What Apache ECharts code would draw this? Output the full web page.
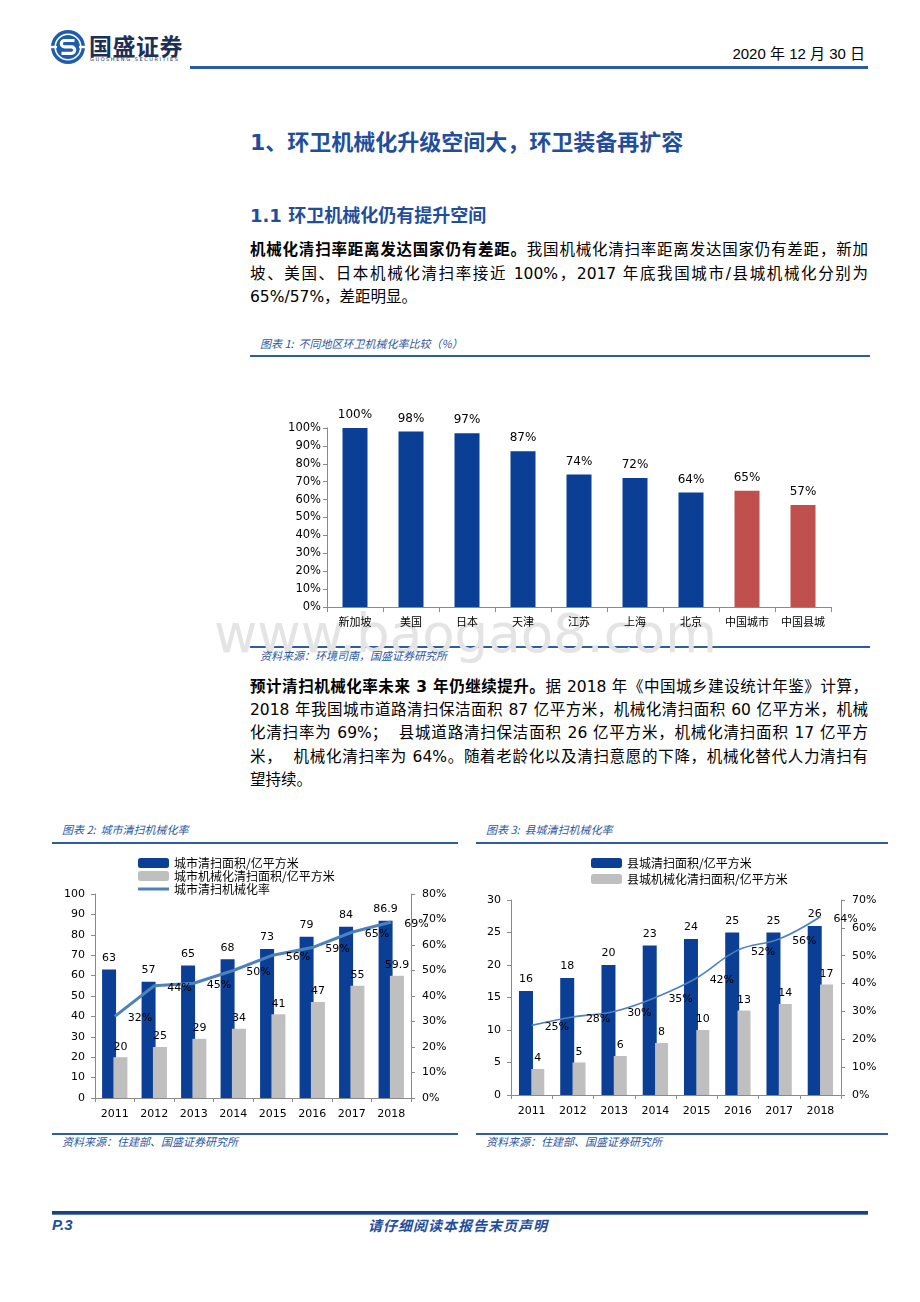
<!DOCTYPE html>
<html><head><meta charset="utf-8">
<script src="https://cdn.jsdelivr.net/npm/echarts@6/dist/echarts.min.js"></script>
<style>
html,body{margin:0;padding:0;background:#fff}
body{width:920px;height:1302px;position:relative;overflow:hidden;font-family:"DejaVu Sans","Noto Sans CJK SC",sans-serif;color:#000}
.a{position:absolute;white-space:nowrap}
.line{position:absolute;left:250px;width:618px;height:23px;line-height:23px;font-size:15.5px;text-align:justify;text-align-last:justify;font-family:"DejaVu Sans","Noto Sans CJK SC",sans-serif}
.line.last{text-align-last:left}
.cap{position:absolute;font-size:11px;font-style:italic;color:#2B579F;font-family:"Noto Sans CJK SC",sans-serif;line-height:14px}
.rule{position:absolute;height:2px;background:#2F5C9F}
.chart{position:absolute;z-index:2}
b{font-weight:bold}
</style></head>
<body>
<!-- header -->
<svg class="a" style="left:50px;top:29px" width="36" height="36" viewBox="0 0 36 36">
<circle cx="18" cy="18" r="17" fill="#1F5CAB"/>
<circle cx="18" cy="18" r="12.8" fill="none" stroke="#fff" stroke-width="1.6"/>
<path d="M24.5 11.5 H14.5 a3.2 3.2 0 0 0 0 6.4 H21.5 a3.2 3.2 0 0 1 0 6.4 H11.5" fill="none" stroke="#fff" stroke-width="3.2"/>
<rect x="1" y="16.8" width="6" height="2.4" fill="#fff"/><rect x="29" y="16.8" width="6" height="2.4" fill="#fff"/>
</svg>
<div class="a" style="left:89px;top:31px;font-size:23px;font-weight:bold;color:#1C2F55;font-family:'Noto Sans CJK SC';line-height:28px;letter-spacing:0.5px">国盛证券</div>
<div class="a" style="left:90px;top:56px;font-size:5px;color:#1C2F55;letter-spacing:1.55px;line-height:6px">GUOSHENG SECURITIES</div>
<div class="a" style="right:55px;top:44px;font-size:15px;line-height:20px;font-family:'Liberation Sans','Noto Sans CJK SC'">2020 年 12 月 30 日</div>
<div class="a" style="left:190px;top:66px;width:678px;height:3px;background:#2B5BA5"></div>

<div class="a" style="left:250px;top:129px;font-size:22px;font-weight:bold;color:#1F4E9C;line-height:28px;font-family:'DejaVu Sans','Noto Sans CJK SC'">1、环卫机械化升级空间大，环卫装备再扩容</div>
<div class="a" style="left:250px;top:204px;font-size:18px;font-weight:bold;color:#1F4E9C;line-height:24px;font-family:'DejaVu Sans','Noto Sans CJK SC'">1.1 环卫机械化仍有提升空间</div>

<div class="line" style="top:239px"><b>机械化清扫率距离发达国家仍有差距。</b>我国机械化清扫率距离发达国家仍有差距，新加</div>
<div class="line" style="top:263px">坡、美国、日本机械化清扫率接近 100%，2017 年底我国城市/县城机械化分别为</div>
<div class="line last" style="top:286px">65%/57%，差距明显。</div>

<!-- chart 1 -->
<div class="cap" style="left:260px;top:336px">图表 1:&nbsp; 不同地区环卫机械化率比较（%）</div>
<div class="rule" style="left:250px;top:355px;width:620px"></div>
<div class="a" style="left:214px;top:604px;font-size:53px;line-height:60px;color:#E4E4E4;font-family:'DejaVu Sans';z-index:1">www.baogao8.com</div>
<div id="c1" class="chart" style="left:250px;top:360px;width:620px;height:285px"></div>
<div class="rule" style="left:250px;top:646px;width:620px"></div>
<div class="cap" style="left:260px;top:648px;z-index:3">资料来源：环境司南，国盛证券研究所</div>

<div class="line" style="top:676px"><b>预计清扫机械化率未来 3 年仍继续提升。</b>据 2018 年《中国城乡建设统计年鉴》计算，</div>
<div class="line" style="top:699px">2018 年我国城市道路清扫保洁面积 87 亿平方米，机械化清扫面积 60 亿平方米，机械</div>
<div class="line" style="top:722px">化清扫率为 69%；&nbsp; 县城道路清扫保洁面积 26 亿平方米，机械化清扫面积 17 亿平方</div>
<div class="line" style="top:746px">米，&nbsp; 机械化清扫率为 64%。随着老龄化以及清扫意愿的下降，机械化替代人力清扫有</div>
<div class="line last" style="top:769px">望持续。</div>

<!-- chart 2 -->
<div class="cap" style="left:62px;top:822px">图表 2:&nbsp; 城市清扫机械化率</div>
<div class="rule" style="left:52px;top:842px;width:406px"></div>
<div id="c2" class="chart" style="left:52px;top:848px;width:406px;height:282px"></div>
<div class="rule" style="left:52px;top:1133px;width:406px"></div>
<div class="cap" style="left:62px;top:1134px">资料来源：住建部、国盛证券研究所</div>

<!-- chart 3 -->
<div class="cap" style="left:486px;top:822px">图表 3:&nbsp; 县城清扫机械化率</div>
<div class="rule" style="left:476px;top:842px;width:412px"></div>
<div id="c3" class="chart" style="left:476px;top:848px;width:412px;height:282px"></div>
<div class="rule" style="left:476px;top:1133px;width:412px"></div>
<div class="cap" style="left:486px;top:1134px">资料来源：住建部、国盛证券研究所</div>

<!-- footer -->
<div class="a" style="left:52px;top:1211px;width:816px;height:3px;background:#1E3F7E"></div>
<div class="a" style="left:52px;top:1214px;width:816px;height:1px;background:#5B7FBE"></div>
<div class="a" style="left:52px;top:1216px;font-size:15px;font-weight:bold;font-style:italic;color:#1F4E9C;line-height:18px;font-family:'Liberation Sans'">P.3</div>
<div class="a" style="left:368px;top:1216px;font-size:14px;font-weight:bold;font-style:italic;color:#1F4E9C;line-height:18px;font-family:'Noto Sans CJK SC';letter-spacing:1px">请仔细阅读本报告末页声明</div>

<script>
// ---- data ----
const regions = ['新加坡','美国','日本','天津','江苏','上海','北京','中国城市','中国县城'];
const mechRate = [100,98,97,87,74,72,64,65,57];
const chinaRegions = ['中国城市','中国县城'];

const years = ['2011','2012','2013','2014','2015','2016','2017','2018'];
const cityArea = [63,57,65,68,73,79,84,86.9];
const cityMechArea = [20,25,29,34,41,47,55,59.9];
const cityRate = [32,44,45,50,56,59,65,69];

const countyArea = [16,18,20,23,24,25,25,26];
const countyMechArea = [4,5,6,8,10,13,14,17];
const countyRate = [25,28,30,35,42,52,56,64];

// ---- styles ----
const BLUE = '#0A3F95', RED = '#C0504D', GREY = '#BFBFBF', LINE = '#4F81BD', AX = '#8A8A8A';
const NUM = 'DejaVu Sans', CJK = 'Noto Sans CJK SC';
const CLEAR = 'rgba(0,0,0,0)';

function axisBase(){
  return {
    axisLine:{show:true,lineStyle:{color:AX,width:1}},
    axisTick:{show:true,length:4,lineStyle:{color:AX}},
    splitLine:{show:false}
  };
}

// chart 1
const c1 = echarts.init(document.getElementById('c1'));
c1.setOption({
  animation:false,
  grid:{left:77,right:39,top:68,bottom:38},
  xAxis:Object.assign(axisBase(),{type:'category',data:regions,
    axisTick:{show:true,length:5,lineStyle:{color:AX}},
    axisLabel:{interval:0,fontSize:11,color:'#000',margin:9,fontFamily:CJK}}),
  yAxis:Object.assign(axisBase(),{type:'value',min:0,max:100,interval:10,
    axisLabel:{formatter:'{value}%',fontSize:11.5,color:'#000',margin:6,fontFamily:NUM}}),
  series:[{type:'bar',barWidth:25,
    data:mechRate.map((v,i)=>({value:v,itemStyle:{color:chinaRegions.includes(regions[i])?RED:BLUE}})),
    label:{show:true,position:'top',distance:7,formatter:'{c}%',fontSize:12,color:'#000',fontFamily:NUM}}]
});

function comboOption(cfg){
  const series=[
    {name:cfg.names[0],type:'bar',data:cfg.a,barWidth:14,barGap:cfg.gap,itemStyle:{color:BLUE},
      label:{show:true,position:'top',distance:6,fontSize:11,color:'#000',fontFamily:NUM}},
    {name:cfg.names[1],type:'bar',data:cfg.b,barWidth:cfg.bw2,itemStyle:{color:GREY},
      label:{show:true,position:'top',distance:5,fontSize:11,color:'#000',fontFamily:NUM}},
    {name:cfg.names[2],type:'line',yAxisIndex:1,data:cfg.r,symbol:'circle',symbolSize:2,showSymbol:true,smooth:cfg.smooth,
      lineStyle:{color:LINE,width:cfg.lw},itemStyle:{color:CLEAR,borderWidth:0},z:5,
      label:{show:true,position:'right',distance:12,offset:[0,2],formatter:'{c}%',fontSize:11,color:'#000',fontFamily:NUM}}
  ];
  const legendData = cfg.legendNames.map(n => n===cfg.names[2]
    ? {name:n, icon:'path://M0,0H31V3H0Z', itemStyle:{color:LINE}}
    : {name:n});
  return {
    animation:false,
    legend:{orient:'vertical',left:cfg.legLeft,top:4,itemWidth:31,itemHeight:10,itemGap:cfg.legGap,
      data:legendData,textStyle:{fontSize:12,color:'#000',fontFamily:CJK}},
    grid:cfg.grid,
    xAxis:Object.assign(axisBase(),{type:'category',data:years,
      axisTick:{show:true,length:4,lineStyle:{color:AX}},
      axisLabel:{interval:0,fontSize:11,color:'#000',margin:11,fontFamily:NUM}}),
    yAxis:[
      Object.assign(axisBase(),{type:'value',min:0,max:cfg.lmax,interval:cfg.lint,
        axisLabel:{fontSize:11,color:'#000',margin:10,fontFamily:NUM}}),
      Object.assign(axisBase(),{type:'value',min:0,max:cfg.rmax,interval:10,position:'right',
        axisLabel:{formatter:'{value}%',fontSize:11,color:'#000',margin:11,fontFamily:NUM}})
    ],
    series:series
  };
}

const c2 = echarts.init(document.getElementById('c2'));
c2.setOption(comboOption({
  names:['城市清扫面积/亿平方米','城市机械化清扫面积/亿平方米','城市清扫机械化率'],
  legendNames:['城市清扫面积/亿平方米','城市机械化清扫面积/亿平方米','城市清扫机械化率'],
  a:cityArea,b:cityMechArea,r:cityRate,gap:'-19%',bw2:14,smooth:false,lw:3,
  legLeft:81,legGap:1,
  grid:{left:43,right:47,top:46,bottom:32},lmax:100,lint:10,rmax:80
}));

const c3 = echarts.init(document.getElementById('c3'));
c3.setOption(comboOption({
  names:['县城清扫面积/亿平方米','县城机械化清扫面积/亿平方米','县城清扫机械化率'],
  legendNames:['县城清扫面积/亿平方米','县城机械化清扫面积/亿平方米'],
  a:countyArea,b:countyMechArea,r:countyRate,gap:'-12%',bw2:13,smooth:0.4,lw:1.6,
  legLeft:110,legGap:4,
  grid:{left:35,right:47,top:52,bottom:35},lmax:30,lint:5,rmax:70
}));
</script>
</body></html>
